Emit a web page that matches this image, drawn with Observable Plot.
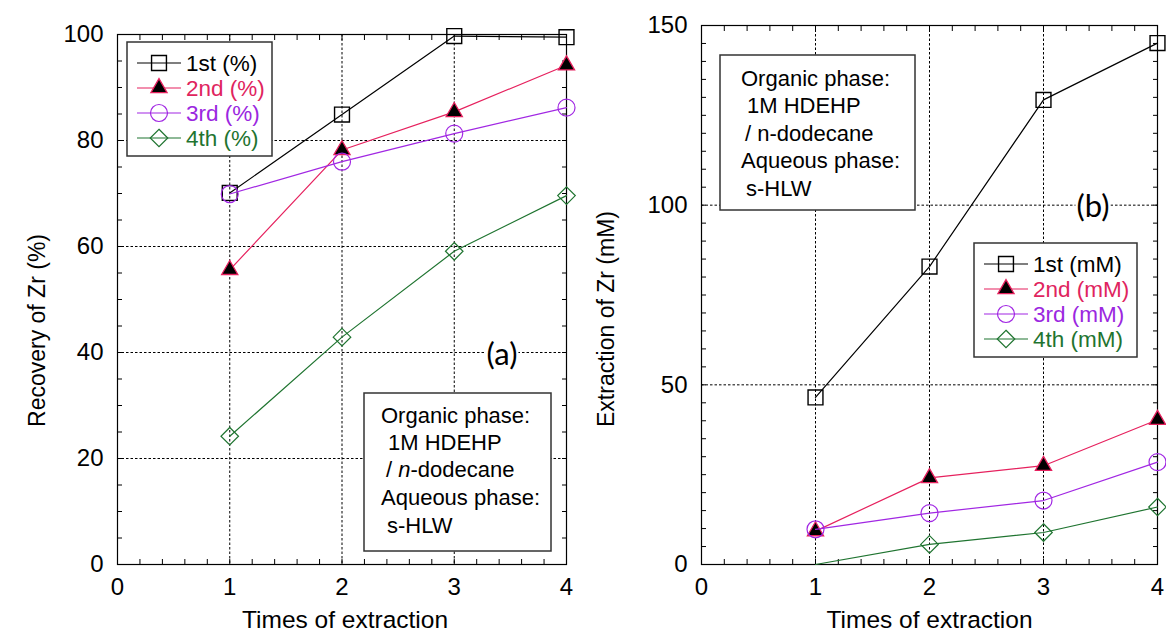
<!DOCTYPE html>
<html><head><meta charset="utf-8">
<script src="https://cdn.jsdelivr.net/npm/d3@7"></script>
<script src="https://cdn.jsdelivr.net/npm/@observablehq/plot@0.6"></script>
<style>
body{margin:0;background:#fff;}
#wrap{position:relative;width:1166px;height:639px;overflow:hidden;font-family:"Liberation Sans",Arial,sans-serif;}
.panel{position:absolute;top:0;}
#ov{position:absolute;left:0;top:0;pointer-events:none;}
</style></head><body><div id="wrap"></div>
<script>
// ---- data ----
const times = [1, 2, 3, 4];
const recovery1st = [70.1, 84.9, 99.7, 99.5];
const recovery2nd = [55.6, 78.2, 85.4, 94.2];
const recovery3rd = [69.9, 76.0, 81.3, 86.2];
const recovery4th = [24.2, 42.9, 59.1, 69.6];
const extraction1st = [46.5, 82.9, 129.3, 145.1];
const extraction2nd = [9.3, 24.1, 27.5, 40.3];
const extraction3rd = [9.8, 14.3, 17.8, 28.5];
const extraction4th = [0, 5.6, 8.9, 16.0];
const xTicks = [0, 1, 2, 3, 4];
const recoveryTicks = [0, 20, 40, 60, 80, 100];
const extractionTicks = [0, 50, 100, 150];
const recoveryLegend = ["1st (%)", "2nd (%)", "3rd (%)", "4th (%)"];
const extractionLegend = ["1st (mM)", "2nd (mM)", "3rd (mM)", "4th (mM)"];
const boxLinesA = ["Organic phase:", " 1M HDEHP", " / n-dodecane", "Aqueous phase:", " s-HLW"];
const boxLinesB = ["Organic phase:", " 1M HDEHP", " / n-dodecane", "Aqueous phase:", " s-HLW"];

// ---- styles ----
const FONT = "'Liberation Sans', Arial, sans-serif";
const styles = [
  {color: "#000000", text: "#000000", symbol: "square", d3sym: d3.symbolSquare, r: 8.4, fill: "none", sw: 1.4},
  {color: "#e6215e", text: "#e0245e", symbol: "triangle", d3sym: d3.symbolTriangle, r: 6.0, fill: "black", sw: 1.3},
  {color: "#a127e3", text: "#9b27e0", symbol: "circle", d3sym: d3.symbolCircle, r: 8.5, fill: "none", sw: 1.2},
  {color: "#1f7430", text: "#1f7430", symbol: "diamond2", d3sym: d3.symbolDiamond2, r: 7.9, fill: "none", sw: 1.2}
];

function table(arrs) {
  return arrs.map((vals, s) => times.map((t, i) => ({s, t, v: vals[i]})));
}

function panel({left, width, mL, mR, mT, mB, yMax, yTicks, yMinor, series, yLabel, yLabelDx, yLabelDy, xLabelDx}) {
  const marks = [
    Plot.gridX([1, 2, 3], {stroke: "black", strokeOpacity: 1, strokeWidth: 1, strokeDasharray: "2.5,2"}),
    Plot.gridY(yTicks.filter(d => d > 0 && d < yMax), {stroke: "black", strokeOpacity: 1, strokeWidth: 1, strokeDasharray: "2.5,2"}),
    Plot.axisX(d3.range(0, 4.001, 0.2), {anchor: "bottom", tickSize: -5, tickFormat: () => "", label: null}),
    Plot.axisX(d3.range(0, 4.001, 0.2), {anchor: "top", tickSize: -5, tickFormat: () => "", label: null}),
    Plot.axisY(d3.range(0, yMax + 0.001, yMinor), {anchor: "left", tickSize: -5, tickFormat: () => "", label: null}),
    Plot.axisY(d3.range(0, yMax + 0.001, yMinor), {anchor: "right", tickSize: -5, tickFormat: () => "", label: null}),
    Plot.axisX(xTicks, {anchor: "bottom", tickSize: 0, tickPadding: 13, fontSize: 24, tickFormat: d => String(d), label: null}),
    Plot.axisY(yTicks, {anchor: "left", tickSize: 0, tickPadding: 14, fontSize: 24, tickFormat: d => String(d), label: null}),
    Plot.frame({stroke: "black", strokeWidth: 1.2}),
    Plot.text([yLabel], {frameAnchor: "left", text: d => d, rotate: -90, textAnchor: "middle", dx: yLabelDx, dy: yLabelDy, fontSize: 23}),
    Plot.text(["Times of extraction"], {frameAnchor: "bottom", text: d => d, dy: 63, dx: xLabelDx, fontSize: 24.5})
  ];
  series.forEach((rows, s) => {
    const st = styles[s];
    marks.push(Plot.line(rows, {x: "t", y: "v", stroke: st.color, strokeWidth: 1.2}));
    marks.push(Plot.dot(rows.filter(d => d.v > 0), {x: "t", y: "v", symbol: st.symbol, r: st.r, stroke: st.color, fill: st.fill, strokeWidth: st.sw}));
  });
  const p = Plot.plot({
    width, height: 639, marginLeft: mL, marginRight: mR, marginTop: mT, marginBottom: mB,
    x: {domain: [0, 4]}, y: {domain: [0, yMax]},
    style: {fontFamily: FONT, fontSize: "24px", color: "black", background: "transparent", overflow: "visible"},
    marks
  });
  p.classList.add("panel");
  p.style.left = left + "px";
  document.getElementById("wrap").appendChild(p);
}

panel({left: 0, width: 583, mL: 117, mR: 17, mT: 34, mB: 75, yMax: 100, yTicks: recoveryTicks, yMinor: 5,
  series: table([recovery1st, recovery2nd, recovery3rd, recovery4th]),
  yLabel: "Recovery of Zr (%)", yLabelDx: -80, yLabelDy: 31, xLabelDx: 3});
panel({left: 583, width: 583, mL: 118, mR: 9, mT: 25, mB: 75, yMax: 150, yTicks: extractionTicks, yMinor: 5,
  series: table([extraction1st, extraction2nd, extraction3rd, extraction4th]),
  yLabel: "Extraction of Zr (mM)", yLabelDx: -95, yLabelDy: 24, xLabelDx: 0});

// ---- overlay: legends, boxes, panel tags ----
const ov = d3.select("#wrap").append("svg").attr("id", "ov").attr("width", 1166).attr("height", 639)
  .style("font-family", FONT);

function legend(x, y, w, h, labels) {
  const g = ov.append("g").attr("transform", `translate(${x},${y})`);
  g.append("rect").attr("x", 0).attr("y", 0).attr("width", w).attr("height", h)
    .attr("fill", "white").attr("stroke", "#333").attr("stroke-width", 1.5);
  labels.forEach((lab, i) => {
    const cy = 21 + i * 25, st = styles[i];
    g.append("line").attr("x1", 10).attr("x2", 54).attr("y1", cy).attr("y2", cy)
      .attr("stroke", st.color).attr("stroke-width", 1.2);
    g.append("path").attr("transform", `translate(32,${cy})`)
      .attr("d", d3.symbol(st.d3sym, st.r * st.r * Math.PI)())
      .attr("fill", st.fill).attr("stroke", st.color).attr("stroke-width", st.sw);
    g.append("text").attr("x", 59).attr("y", cy).attr("dy", "0.36em").attr("fill", st.text)
      .style("font-size", "22.5px").text(lab);
  });
}
legend(127, 42, 145, 114, recoveryLegend);
legend(974, 243, 163, 114, extractionLegend);

function textBox(x, y, w, h, lines, xs, ys, italicN) {
  const g = ov.append("g").attr("transform", `translate(${x},${y})`);
  g.append("rect").attr("x", 0).attr("y", 0).attr("width", w).attr("height", h)
    .attr("fill", "white").attr("stroke", "#333").attr("stroke-width", 1.5);
  lines.forEach((ln, i) => {
    const t = g.append("text").attr("x", xs[i]).attr("y", ys[i]).attr("dy", "0.36em")
      .style("font-size", "22px").attr("fill", "black");
    if (italicN && ln.includes("n-")) {
      const [a, b] = ln.split("n-");
      t.append("tspan").text(a.trim() + " ");
      t.append("tspan").style("font-style", "italic").text("n");
      t.append("tspan").text("-" + b);
    } else t.text(ln.trim());
  });
}
textBox(364, 393, 187, 158, boxLinesA, [17, 24, 22, 17, 23], [22, 49, 76, 104, 132], true);
textBox(720, 55, 195, 155, boxLinesB, [21, 27, 25, 21, 26], [23, 50, 78, 105, 133], false);

function tag(cx, cy, label) {
  const t = ov.append("text").attr("x", cx).attr("y", cy).attr("dy", "0.35em").attr("text-anchor", "middle")
    .style("font-family", "Lato, 'Open Sans', sans-serif").style("font-size", "31px").attr("fill", "black").text(label);
  const bb = t.node().getBBox();
  ov.insert("rect", () => t.node()).attr("x", bb.x - 1).attr("y", bb.y + 4).attr("width", bb.width + 2).attr("height", bb.height - 8).attr("fill", "white");
}
tag(502, 354, "(a)");
tag(1093, 206, "(b)");
</script></body></html>
